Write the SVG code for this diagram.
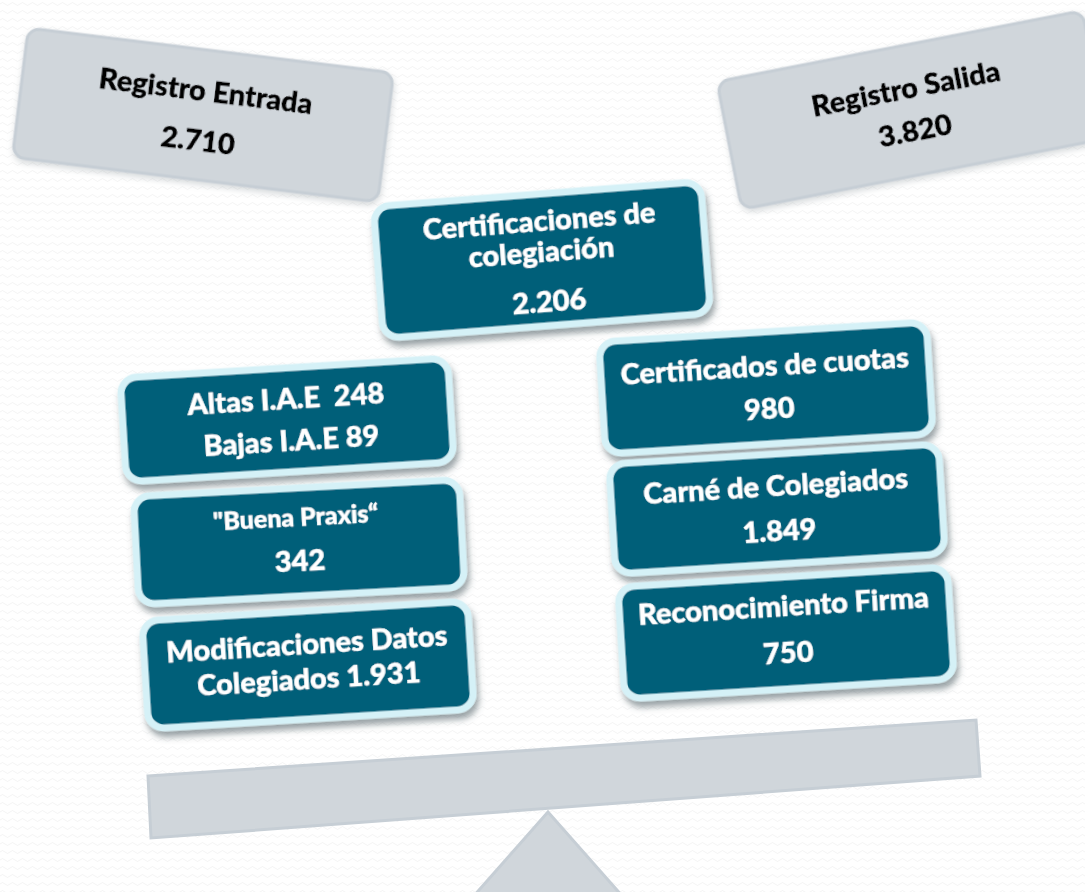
<svg xmlns="http://www.w3.org/2000/svg" width="1085" height="892" viewBox="0 0 1085 892">
<style>
.gray{fill:#d0d6db;stroke:#c6ced5;stroke-width:3}
.teal{fill:#045f79;stroke:#d5f1f7;stroke-width:7}
.tg{font-family:Lato,"Liberation Sans",sans-serif;font-weight:900;fill:#000;stroke:#000;stroke-width:0.4;text-anchor:middle;font-size:29px}
.tw{font-family:Lato,"Liberation Sans",sans-serif;font-weight:900;fill:#fff;stroke:#fff;stroke-width:0.4;text-anchor:middle;font-size:29px}
</style>
<defs>
<pattern id="bg" width="10" height="8" patternUnits="userSpaceOnUse">
<path d="M0 4 Q2.5 1 5 4 T10 4" fill="none" stroke="#f0f0f0" stroke-width="0.8"/>
</pattern>
<filter id="sh" x="-10%" y="-20%" width="130%" height="150%">
<feDropShadow dx="2" dy="6" stdDeviation="3" flood-color="#4a5a60" flood-opacity="0.55"/>
</filter>
<filter id="shg" x="-10%" y="-20%" width="130%" height="150%">
<feDropShadow dx="1" dy="3" stdDeviation="3" flood-color="#8a949a" flood-opacity="0.35"/>
</filter>
</defs>
<rect width="1085" height="892" fill="#fff"/>
<rect width="1085" height="892" fill="url(#bg)"/>

<g id="scale">
<polygon class="gray" points="548,812 472,898 624,898"/>
<polygon class="gray" points="148,776 976,720 980,776 151,838"/>
</g>

<g id="registro-entrada" transform="translate(203,115) rotate(7)" filter="url(#shg)">
<rect class="gray" x="-184" y="-65" width="368" height="130" rx="12"/>
<text class="tg" x="0" y="-14">Registro Entrada</text>
<text class="tg" x="-2" y="36">2.710</text>
</g>

<g id="registro-salida" transform="translate(912,110) rotate(-11)" filter="url(#shg)">
<rect class="gray" x="-186" y="-65" width="372" height="130" rx="12"/>
<text class="tg" x="-2" y="-12">Registro Salida</text>
<text class="tg" x="-1" y="31">3.820</text>
</g>

<g id="certificaciones-colegiacion" transform="translate(542,260) rotate(-4.4)" filter="url(#sh)">
<rect class="teal" x="-164" y="-66" width="328" height="132" rx="16"/>
<text class="tw" x="0" y="-29">Certificaciones de</text>
<text class="tw" x="0" y="2">colegiación</text>
<text class="tw" x="4" y="52">2.206</text>
</g>

<g id="altas-bajas" transform="translate(287,420) rotate(-3.5)" filter="url(#sh)">
<rect class="teal" x="-164" y="-52" width="328" height="104" rx="16"/>
<text class="tw" x="0" y="-11" style="white-space:pre">Altas I.A.E  248</text>
<text class="tw" x="3" y="31">Bajas I.A.E 89</text>
</g>

<g id="buena-praxis" transform="translate(299,542) rotate(-3)" filter="url(#sh)">
<rect class="teal" x="-163" y="-54" width="326" height="108" rx="16"/>
<text class="tw" x="-2" y="-16" style="font-size:25px">"Buena Praxis“</text>
<text class="tw" x="0" y="29">342</text>
</g>

<g id="modificaciones-datos" transform="translate(308,665) rotate(-3.5)" filter="url(#sh)">
<rect class="teal" x="-163" y="-54" width="326" height="108" rx="16"/>
<text class="tw" x="0" y="-11">Modificaciones Datos</text>
<text class="tw" x="0" y="24">Colegiados 1.931</text>
</g>

<g id="certificados-cuotas" transform="translate(766,388) rotate(-3.5)" filter="url(#sh)">
<rect class="teal" x="-164" y="-56" width="328" height="112" rx="16"/>
<text class="tw" x="0" y="-12">Certificados de cuotas</text>
<text class="tw" x="2" y="31">980</text>
</g>

<g id="carne-colegiados" transform="translate(777,509) rotate(-3.5)" filter="url(#sh)">
<rect class="teal" x="-165" y="-55" width="330" height="110" rx="16"/>
<text class="tw" x="0" y="-13">Carné de Colegiados</text>
<text class="tw" x="1" y="32">1.849</text>
</g>

<g id="reconocimiento-firma" transform="translate(786,633) rotate(-3.5)" filter="url(#sh)">
<rect class="teal" x="-165" y="-56" width="330" height="112" rx="16"/>
<text class="tw" x="-1" y="-17">Reconocimiento Firma</text>
<text class="tw" x="1" y="30">750</text>
</g>
</svg>
